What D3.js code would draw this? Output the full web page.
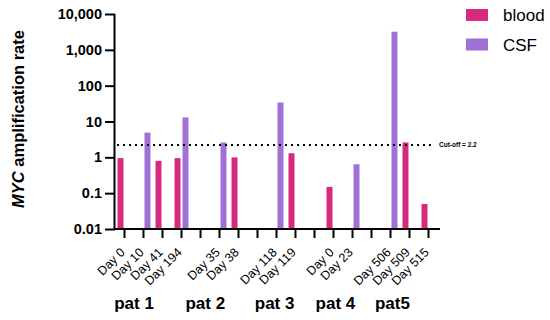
<!DOCTYPE html>
<html>
<head>
<meta charset="utf-8">
<script src="https://cdn.jsdelivr.net/npm/d3@7"></script>
<style>
  body { margin: 0; background: #fff; }
  svg { font-family: Arial, "Liberation Sans", sans-serif; }
</style>
</head>
<body>
<svg id="chart" width="550" height="320"></svg>
<script>
// categories (empty slots separate the patients)
const days = ['Day 0', 'Day 10', 'Day 41', 'Day 194', '', 'Day 35', 'Day 38', '', 'Day 118', 'Day 119', '', 'Day 0', 'Day 23', '', 'Day 506', 'Day 509', 'Day 515'];
const blood = [0.95, null, 0.8, 0.95, null, null, 1.0, null, null, 1.3, null, 0.15, null, null, null, 2.6, 0.05];
const csf = [null, 4.9, null, 13, null, 2.6, null, null, 34, null, null, null, 0.64, null, 3200, null, null];
const series = ['blood', 'CSF'];
const patients = ['pat 1', 'pat 2', 'pat 3', 'pat 4', 'pat5'];
const yTicks = [0.01, 0.1, 1, 10, 100, 1000, 10000];
const cutoff = 2.2;

const colors = { blood: '#d62a7e', CSF: '#a070d4' };
// where each patient label sits, in slot units
const patAt = [0.5, 4.25, 7.9, 11.1, 14.1];

const svg = d3.select('#chart');

const x = d3.scaleBand()
  .domain(d3.range(days.length))
  .range([115, 438]);

const sub = d3.scaleBand()
  .domain(series)
  .range([-7, 7])
  .paddingInner(0.25);

const y = d3.scaleLog()
  .domain([0.01, 10000])
  .range([229, 14]);

const cx = i => x(i) + x.bandwidth() / 2;

// bars
const rows = [];
days.forEach((d, i) => {
  if (blood[i] != null) rows.push({ i, s: 'blood', v: blood[i] });
  if (csf[i] != null) rows.push({ i, s: 'CSF', v: csf[i] });
});

svg.append('g')
  .selectAll('rect')
  .data(rows)
  .enter()
  .append('rect')
  .attr('x', d => cx(d.i) + sub(d.s))
  .attr('width', sub.bandwidth())
  .attr('y', d => y(d.v))
  .attr('height', d => y(0.01) - y(d.v))
  .attr('fill', d => colors[d.s]);

// cut-off line
svg.append('line')
  .attr('x1', 117)
  .attr('x2', 435)
  .attr('y1', y(cutoff))
  .attr('y2', y(cutoff))
  .attr('stroke', '#000')
  .attr('stroke-width', 2)
  .attr('stroke-dasharray', '2,4');

svg.append('text')
  .attr('x', 439)
  .attr('y', y(cutoff))
  .attr('dy', '0.35em')
  .attr('font-size', 6.5)
  .attr('font-weight', 'bold')
  .text('Cut-off = ' + cutoff);

// y axis
const yAxis = d3.axisLeft(y)
  .tickValues(yTicks)
  .tickFormat(d3.format(','))
  .tickSize(10)
  .tickPadding(3);

const gy = svg.append('g')
  .attr('transform', 'translate(115,0)')
  .call(yAxis);
gy.select('.domain').attr('stroke-width', 2).attr('d', `M-0.5,${y(10000)}V${y(0.01) + 1}`);
gy.selectAll('.tick line').attr('stroke-width', 2);
gy.selectAll('.tick text')
  .attr('font-size', 14.5)
  .attr('font-weight', 'bold')
  .attr('font-family', 'Arial, "Liberation Sans", sans-serif')
  .attr('fill', '#000');

// x axis
const xAxis = d3.axisBottom(x)
  .tickFormat(i => days[i])
  .tickSize(9)
  .tickSizeOuter(0);

const gx = svg.append('g')
  .attr('transform', 'translate(0,229)')
  .call(xAxis);
gx.select('.domain').attr('stroke-width', 2).attr('d', 'M114,0H440');
gx.selectAll('.tick line').attr('stroke-width', 2);
gx.selectAll('.tick text')
  .attr('font-size', 12.5)
  .attr('font-family', 'Arial, "Liberation Sans", sans-serif')
  .attr('fill', '#000')
  .attr('text-anchor', 'end')
  .attr('x', 0)
  .attr('y', 0)
  .attr('dy', '0.35em')
  .attr('transform', 'translate(-2,21) rotate(-45)');

// patient labels
const slot = d3.scaleLinear().domain([0, 1]).range([cx(0), cx(1)]);
svg.append('g')
  .selectAll('text')
  .data(patients)
  .enter()
  .append('text')
  .attr('x', (d, i) => slot(patAt[i]))
  .attr('y', 309)
  .attr('text-anchor', 'middle')
  .attr('font-size', 17)
  .attr('font-weight', 'bold')
  .text(d => d);

// y label
const yl = svg.append('text')
  .attr('transform', 'translate(24,119) rotate(-90)')
  .attr('text-anchor', 'middle')
  .attr('font-size', 16.5)
  .attr('font-weight', 'bold');
yl.append('tspan').attr('font-style', 'italic').text('MYC');
yl.append('tspan').text(' amplification rate');

// legend
const legend = svg.append('g');
series.forEach((s, i) => {
  legend.append('rect')
    .attr('x', 466)
    .attr('y', 9 + i * 29.5)
    .attr('width', 22)
    .attr('height', 12)
    .attr('fill', colors[s]);
  legend.append('text')
    .attr('x', 503)
    .attr('y', 21 + i * 29.5)
    .attr('font-size', 17)
    .text(s);
});
</script>
</body>
</html>
